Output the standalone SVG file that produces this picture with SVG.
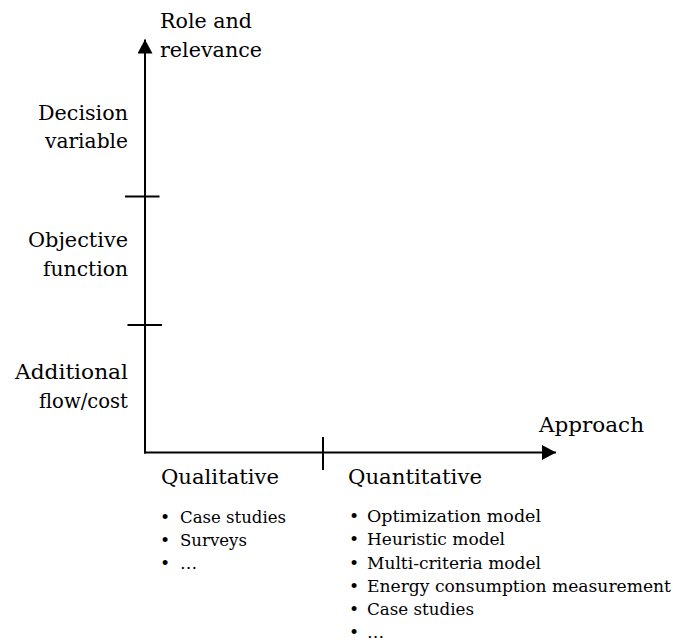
<svg xmlns="http://www.w3.org/2000/svg" width="673" height="641" viewBox="0 0 673 641">
<style>
text { font-family: "DejaVu Serif", "Liberation Serif", serif; fill: #000; }
.lg { font-size: 20.8px; }
.sm { font-size: 17.2px; }
.ax { stroke: #000; stroke-width: 2; fill: none; }
.r { text-anchor: end; }
</style>
<defs>
<marker id="ah" viewBox="0 0 14 15" refX="14" refY="7.5" markerWidth="14" markerHeight="15" markerUnits="userSpaceOnUse" orient="auto">
<path d="M0,0 L14,7.5 L0,15 Z" fill="#000"/>
</marker>
</defs>
<rect width="673" height="641" fill="#fff"/>
<g id="connectors">
<line class="ax" x1="145" y1="453.5" x2="145" y2="39.5" marker-end="url(#ah)"/>
<line class="ax" x1="144" y1="452.5" x2="556" y2="452.5" marker-end="url(#ah)"/>
<line class="ax" x1="125" y1="196.5" x2="159.5" y2="196.5"/>
<line class="ax" x1="127.5" y1="325" x2="162" y2="325"/>
<line class="ax" x1="323" y1="437" x2="323" y2="470"/>
</g>
<g id="y-axis-title">
<text class="lg" x="160" y="28" textLength="92" lengthAdjust="spacingAndGlyphs">Role and</text>
<text class="lg" x="160" y="57" textLength="102" lengthAdjust="spacingAndGlyphs">relevance</text>
</g>
<g id="decision-variable">
<text class="lg r" x="128" y="120" textLength="90" lengthAdjust="spacingAndGlyphs">Decision</text>
<text class="lg r" x="128" y="148" textLength="83" lengthAdjust="spacingAndGlyphs">variable</text>
</g>
<g id="objective-function">
<text class="lg r" x="128" y="247" textLength="100" lengthAdjust="spacingAndGlyphs">Objective</text>
<text class="lg r" x="128" y="276" textLength="85" lengthAdjust="spacingAndGlyphs">function</text>
</g>
<g id="additional-flow-cost">
<text class="lg r" x="128" y="379" textLength="113" lengthAdjust="spacingAndGlyphs">Additional</text>
<text class="lg r" x="128" y="408" textLength="89" lengthAdjust="spacingAndGlyphs">flow/cost</text>
</g>
<g id="x-axis-title">
<text class="lg" x="539" y="432" textLength="105" lengthAdjust="spacingAndGlyphs">Approach</text>
</g>
<g id="qualitative">
<text class="lg" x="161" y="483.5" textLength="118" lengthAdjust="spacingAndGlyphs">Qualitative</text>
<text class="sm" x="160" y="522.5">•</text>
<text class="sm" x="180" y="522.5" textLength="106" lengthAdjust="spacingAndGlyphs">Case studies</text>
<text class="sm" x="160" y="545.5">•</text>
<text class="sm" x="180" y="545.5" textLength="67" lengthAdjust="spacingAndGlyphs">Surveys</text>
<text class="sm" x="160" y="568.5">•</text>
<text class="sm" x="180" y="568.5">…</text>
</g>
<g id="quantitative">
<text class="lg" x="348" y="483.5" textLength="134" lengthAdjust="spacingAndGlyphs">Quantitative</text>
<text class="sm" x="349" y="522">•</text>
<text class="sm" x="367" y="522" textLength="174" lengthAdjust="spacingAndGlyphs">Optimization model</text>
<text class="sm" x="349" y="545">•</text>
<text class="sm" x="367" y="545" textLength="138" lengthAdjust="spacingAndGlyphs">Heuristic model</text>
<text class="sm" x="349" y="568.5">•</text>
<text class="sm" x="367" y="568.5" textLength="174" lengthAdjust="spacingAndGlyphs">Multi-criteria model</text>
<text class="sm" x="349" y="592">•</text>
<text class="sm" x="367" y="592" textLength="304" lengthAdjust="spacingAndGlyphs">Energy consumption measurement</text>
<text class="sm" x="349" y="615">•</text>
<text class="sm" x="367" y="615" textLength="107" lengthAdjust="spacingAndGlyphs">Case studies</text>
<text class="sm" x="349" y="638">•</text>
<text class="sm" x="367" y="638">…</text>
</g>
</svg>
